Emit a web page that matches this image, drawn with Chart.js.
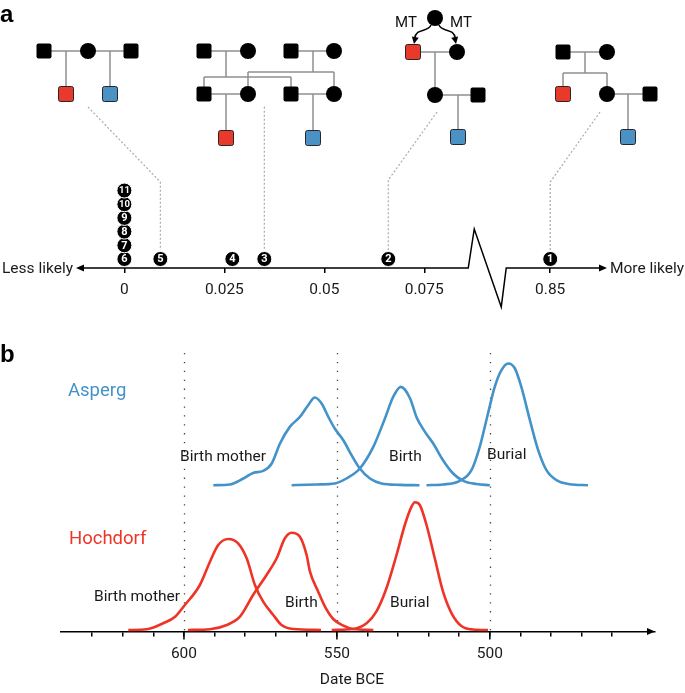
<!DOCTYPE html>
<html>
<head>
<meta charset="utf-8">
<script src="https://cdn.jsdelivr.net/npm/chart.js@4.4.4/dist/chart.umd.min.js"></script>
<style>
  html, body { margin: 0; padding: 0; background: #fff; }
  #wrap { position: relative; width: 685px; height: 693px; }
  canvas { position: absolute; left: 0; }
  #panelA { top: 0; }
  #panelB { top: 320px; }
</style>
</head>
<body>
<div id="wrap">
  <canvas id="panelA" width="685" height="320" style="width:685px;height:320px"></canvas>
  <canvas id="panelB" width="685" height="373" style="width:685px;height:373px"></canvas>
</div>
<script>
// Panel a: likelihood of the eleven ranked pedigree hypotheses (axis broken between 0.075 and 0.85)
const ranks = [1, 2, 3, 4, 5, 6, 7, 8, 9, 10, 11];
const likelihood = [0.85, 0.066, 0.035, 0.027, 0.009, 0, 0, 0, 0, 0, 0];
const stackLevel = [0, 0, 0, 0, 0, 0, 1, 2, 3, 4, 5];
const likelihoodTicks = [0, 0.025, 0.05, 0.075, 0.85];
const likelihoodTickLabels = ['0', '0.025', '0.05', '0.075', '0.85'];

// Panel b: modelled date densities (years BCE, relative density)
const aspergMotherYears = [590.4, 585, 580.6, 577.4, 574.1, 571.3, 568.6, 565.4, 562.1, 559.4, 557.2, 555, 552.8, 550.7, 547.9, 545.2, 542.5, 539.2, 535.4, 529.4, 523];
const aspergMotherDens = [0, 0.7, 6.7, 12.3, 14.3, 21.7, 41.7, 58.3, 68.3, 80, 87.7, 81.7, 68.3, 56.7, 45, 30, 16.7, 6.7, 1.7, 0.3, 0];
const aspergBirthYears = [564.8, 556.6, 550.7, 546.9, 542.5, 538.1, 534.3, 531.6, 529.1, 526.1, 524, 521.2, 518.5, 515.3, 512, 508.7, 504.4, 500];
const aspergBirthDens = [0, 0.7, 1.7, 6.7, 16.7, 38.3, 66.7, 88.3, 98.3, 87, 68.3, 53.3, 41.7, 25, 11.7, 4.4, 1.2, 0];
const aspergBurialYears = [520.7, 515.3, 509.8, 506, 503.3, 500.6, 498.4, 496.2, 494, 491.8, 489.7, 486.9, 484.2, 481.5, 478.2, 473.9, 467.9];
const aspergBurialDens = [0, 0.7, 4.4, 15, 38.3, 71.7, 98.3, 115, 121.7, 116.7, 98.3, 65, 35, 15, 5, 1, 0];

const hochMotherYears = [618.2, 612.2, 606.8, 602.9, 599.7, 594.8, 591.5, 588.8, 585.5, 582.3, 579.5, 576.8, 574.1, 570.8, 568.1, 564.3, 555.2];
const hochMotherDens = [0, 0.7, 6.7, 13.3, 25, 45, 68.3, 85, 91, 86.7, 71.7, 45, 28.3, 15, 5, 1, 0];
const hochBirthYears = [598.7, 591.5, 586, 581.7, 577.4, 573, 569.7, 567, 564.8, 562.1, 559.9, 558.8, 556.1, 553.9, 551.2, 547.9, 544.7, 538.1];
const hochBirthDens = [0, 0.7, 5, 13.3, 35, 55, 71.7, 91.7, 97.3, 93.3, 75, 58.3, 38.3, 23.3, 11, 4.3, 1, 0];
const hochBurialYears = [551.7, 544.7, 540.3, 537.1, 533.8, 530.5, 527.8, 525.6, 524.5, 522.9, 520.7, 518, 515.3, 512.5, 509.3, 505.5, 500.6];
const hochBurialDens = [0, 1, 6.7, 18.3, 41.7, 75, 105, 123.3, 127.7, 125, 105, 71.7, 38.3, 16.7, 4, 0.5, 0];

const dateTicks = [630, 620, 610, 600, 590, 580, 570, 560, 550, 540, 530, 520, 510, 500, 490, 480, 470, 460];
const dateTickLabels = [600, 550, 500];

const FONT = 'Roboto, "Noto Sans", sans-serif';
const ASPERG = '#4393c9';
const HOCH = '#ee3426';
const RED_SQ = '#e8392b';
const BLUE_SQ = '#4a91c6';
const LINK = '#8f8f8f';
const TEXT = '#1a1a1a';

// the 0.085..0.85 gap is squeezed into the zigzag
const BREAK_FROM = 0.086, BREAK_TO = 0.0955, BREAK_SHIFT = 0.85 - 0.1065;
const toAxis = (v) => (v > 0.5 ? v - BREAK_SHIFT : v);

// pedigree sketches above the axis: M male, F female, R red (Hochdorf), B blue (Asperg)
const pedigrees = [
  { people: [['M', 44, 51], ['F', 88, 51], ['M', 131, 51], ['R', 66, 94], ['B', 110, 94]],
    lines: [[44, 51, 131, 51], [66, 51, 66, 94], [110, 51, 110, 94]] },
  { people: [['M', 204, 51], ['F', 248, 51], ['M', 291, 51], ['F', 334, 51],
             ['M', 204, 94], ['F', 248, 94], ['M', 291, 94], ['F', 334, 94], ['R', 226, 138], ['B', 313, 138]],
    lines: [[204, 51, 248, 51], [291, 51, 334, 51], [226, 51, 226, 77], [204, 77, 291, 77], [204, 77, 204, 94], [291, 77, 291, 94],
            [313, 51, 313, 72], [248, 72, 334, 72], [248, 72, 248, 94], [334, 72, 334, 94],
            [204, 94, 248, 94], [291, 94, 334, 94], [226, 94, 226, 138], [313, 94, 313, 138]] },
  { people: [['F', 435, 18], ['R', 413, 52], ['F', 457, 52], ['F', 435, 95], ['M', 478, 95], ['B', 458, 137]],
    lines: [[413, 52, 457, 52], [435, 52, 435, 95], [435, 95, 478, 95], [458, 95, 458, 137]] },
  { people: [['M', 563, 52], ['F', 607, 52], ['R', 563, 94], ['F', 607, 94], ['M', 650, 94], ['B', 628, 137]],
    lines: [[563, 52, 607, 52], [585, 52, 585, 73], [563, 73, 607, 73], [563, 73, 563, 94], [607, 73, 607, 94],
            [607, 94, 650, 94], [628, 94, 628, 137]] },
];
const connectors = [
  { rank: 5, from: [88, 107], bendY: 182 },
  { rank: 3, from: [264, 107], bendY: 107 },
  { rank: 2, from: [437, 112], bendY: 180 },
  { rank: 1, from: [600, 112], bendY: 182 },
];

function drawPerson(ctx, kind, x, y) {
  ctx.beginPath();
  if (kind === 'F') {
    ctx.arc(x, y, 8, 0, Math.PI * 2);
    ctx.fillStyle = '#000';
    ctx.fill();
    return;
  }
  ctx.roundRect(x - 7.5, y - 7.5, 15, 15, 2);
  ctx.fillStyle = kind === 'R' ? RED_SQ : kind === 'B' ? BLUE_SQ : '#000';
  ctx.fill();
  if (kind !== 'M') { ctx.strokeStyle = '#262626'; ctx.lineWidth = 1; ctx.stroke(); }
}

function arrowHead(ctx, tipX, tipY, angle, len, half) {
  ctx.beginPath();
  ctx.moveTo(tipX, tipY);
  ctx.lineTo(tipX - len * Math.cos(angle) + half * Math.sin(angle), tipY - len * Math.sin(angle) - half * Math.cos(angle));
  ctx.lineTo(tipX - len * Math.cos(angle) - half * Math.sin(angle), tipY - len * Math.sin(angle) + half * Math.cos(angle));
  ctx.closePath();
  ctx.fill();
}

const panelAPlugin = {
  id: 'panelA',
  afterDatasetsDraw(chart) {
    const { ctx, chartArea, scales } = chart;
    const x = scales.x;
    const y0 = chartArea.bottom;
    ctx.save();

    // broken axis with arrows on both ends
    const b1 = x.getPixelForValue(BREAK_FROM), b2 = x.getPixelForValue(BREAK_TO);
    ctx.strokeStyle = '#000'; ctx.fillStyle = '#000'; ctx.lineWidth = 1.5;
    ctx.beginPath();
    ctx.moveTo(chartArea.left + 6, y0);
    ctx.lineTo(b1, y0);
    ctx.lineTo(b1 + 6, y0 - 39);
    ctx.lineTo(b2 - 5, y0 + 39);
    ctx.lineTo(b2, y0);
    ctx.lineTo(chartArea.right - 6, y0);
    ctx.stroke();
    arrowHead(ctx, chartArea.left, y0, Math.PI, 8, 3.5);
    arrowHead(ctx, chartArea.right, y0, 0, 8, 3.5);

    ctx.font = `15.5px ${FONT}`;
    ctx.fillStyle = TEXT;
    ctx.textBaseline = 'middle';
    ctx.textAlign = 'right';
    ctx.fillText('Less likely', chartArea.left - 3, y0 + 1);
    ctx.textAlign = 'left';
    ctx.fillText('More likely', chartArea.right + 3, y0 + 1);

    // dotted leaders from each sketch to its rank marker
    const meta = chart.getDatasetMeta(0);
    ctx.strokeStyle = '#aaaaaa'; ctx.lineWidth = 1.2; ctx.setLineDash([2, 2]);
    for (const c of connectors) {
      const el = meta.data[ranks.indexOf(c.rank)];
      ctx.beginPath();
      ctx.moveTo(c.from[0], c.from[1]);
      ctx.lineTo(el.x, c.bendY);
      ctx.lineTo(el.x, el.y - 9);
      ctx.stroke();
    }
    ctx.setLineDash([]);

    // pedigrees
    for (const p of pedigrees) {
      ctx.strokeStyle = LINK; ctx.lineWidth = 1.5;
      for (const [x1, y1, x2, y2] of p.lines) {
        ctx.beginPath(); ctx.moveTo(x1, y1); ctx.lineTo(x2, y2); ctx.stroke();
      }
      for (const [kind, px, py] of p.people) drawPerson(ctx, kind, px, py);
    }

    // mitochondrial lineage arrows
    ctx.strokeStyle = '#000'; ctx.fillStyle = '#000'; ctx.lineWidth = 1.5;
    ctx.beginPath(); ctx.moveTo(431, 25); ctx.bezierCurveTo(428, 33, 416, 27, 414.5, 39); ctx.stroke();
    arrowHead(ctx, 414, 44, Math.PI * 0.56, 7, 3.5);
    ctx.beginPath(); ctx.moveTo(439, 25); ctx.bezierCurveTo(442, 33, 454, 27, 455.5, 39); ctx.stroke();
    arrowHead(ctx, 456, 44, Math.PI * 0.44, 7, 3.5);
    ctx.font = `15px ${FONT}`;
    ctx.textAlign = 'center'; ctx.textBaseline = 'middle';
    ctx.fillStyle = '#111';
    ctx.fillText('MT', 406, 23);
    ctx.fillText('MT', 461, 23);

    // rank numbers inside the markers
    ctx.fillStyle = '#fff';
    meta.data.forEach((el, i) => {
      const s = String(ranks[i]);
      ctx.font = `bold ${s.length > 1 ? 9.5 : 11}px ${FONT}`;
      ctx.fillText(s, el.x, el.y + 0.5);
    });

    ctx.fillStyle = '#000';
    ctx.font = 'bold 24px "Liberation Sans", Arial, sans-serif';
    ctx.textAlign = 'left';
    ctx.fillText('a', 0, 15);
    ctx.restore();
  },
};

new Chart(document.getElementById('panelA'), {
  type: 'scatter',
  data: {
    datasets: [{
      data: ranks.map((r, i) => ({ x: toAxis(likelihood[i]), y: stackLevel[i] })),
      pointRadius: 7.5,
      pointHoverRadius: 7.5,
      backgroundColor: '#000',
      borderColor: '#fff',
      borderWidth: 1,
      clip: false,
    }],
  },
  options: {
    responsive: false,
    animation: false,
    events: [],
    layout: { padding: { left: 76, right: 78, top: 150, bottom: 0 } },
    plugins: { legend: { display: false }, tooltip: { enabled: false } },
    scales: {
      x: {
        type: 'linear',
        min: -0.0121,
        max: 0.1207,
        afterFit(s) { s.height = 52; },
        afterBuildTicks(s) { s.ticks = likelihoodTicks.map((v) => ({ value: toAxis(v) })); },
        border: { display: false },
        grid: { drawOnChartArea: false, drawTicks: true, tickLength: 5, color: '#000', lineWidth: 1.5 },
        ticks: {
          padding: 8, autoSkip: false, maxRotation: 0, color: TEXT,
          font: { family: FONT, size: 15.5 },
          callback: (v, i) => likelihoodTickLabels[i],
        },
      },
      y: { display: false, min: -0.657, max: 7.96 },
    },
  },
  plugins: [panelAPlugin],
});

// ---------- panel b ----------
const curveLabels = [
  { text: 'Asperg', color: ASPERG, size: 18.5, x: 68, y: 391 },
  { text: 'Hochdorf', color: HOCH, size: 18.5, x: 69, y: 539 },
  { text: 'Birth mother', color: TEXT, size: 15.5, x: 180, y: 457 },
  { text: 'Birth', color: TEXT, size: 15.5, x: 389, y: 457 },
  { text: 'Burial', color: TEXT, size: 15.5, x: 487, y: 455 },
  { text: 'Birth mother', color: TEXT, size: 15.5, x: 94, y: 597 },
  { text: 'Birth', color: TEXT, size: 15.5, x: 285, y: 603 },
  { text: 'Burial', color: TEXT, size: 15.5, x: 390, y: 603 },
];
const PANEL_B_TOP = 320;

function curve(years, dens, color, axis) {
  return {
    data: years.map((yr, i) => ({ x: yr, y: dens[i] })),
    showLine: true,
    borderColor: color,
    borderWidth: 2.6,
    pointRadius: 0,
    cubicInterpolationMode: 'monotone',
    yAxisID: axis,
    clip: false,
  };
}

const panelBPlugin = {
  id: 'panelB',
  beforeDatasetsDraw(chart) {
    const { ctx, chartArea, scales } = chart;
    ctx.save();
    ctx.strokeStyle = '#444'; ctx.lineWidth = 1.3; ctx.setLineDash([1.3, 7.6]);
    for (const v of dateTickLabels) {
      const px = Math.round(scales.x.getPixelForValue(v)) + 0.5;
      ctx.beginPath(); ctx.moveTo(px, chartArea.top); ctx.lineTo(px, chartArea.bottom); ctx.stroke();
    }
    ctx.restore();
  },
  afterDatasetsDraw(chart) {
    const { ctx, chartArea, scales } = chart;
    const y0 = chartArea.bottom;
    ctx.save();
    ctx.fillStyle = '#000';
    arrowHead(ctx, chartArea.right, y0, 0, 8, 3.5);
    ctx.strokeStyle = '#000'; ctx.lineWidth = 1.5;
    for (const v of dateTickLabels) {
      const px = scales.x.getPixelForValue(v);
      ctx.beginPath(); ctx.moveTo(px, y0); ctx.lineTo(px, y0 + 8); ctx.stroke();
    }
    ctx.textBaseline = 'middle'; ctx.textAlign = 'left';
    for (const l of curveLabels) {
      ctx.font = `${l.size}px ${FONT}`;
      ctx.fillStyle = l.color;
      ctx.fillText(l.text, l.x, l.y - PANEL_B_TOP);
    }
    ctx.font = `15.5px ${FONT}`;
    ctx.fillStyle = TEXT;
    ctx.textAlign = 'center';
    ctx.fillText('Date BCE', 352, 680 - PANEL_B_TOP);
    ctx.fillStyle = '#000';
    ctx.textAlign = 'left';
    ctx.font = 'bold 24px "Liberation Sans", Arial, sans-serif';
    ctx.fillText('b', 0, 355 - PANEL_B_TOP);
    ctx.restore();
  },
};

new Chart(document.getElementById('panelB'), {
  type: 'scatter',
  data: {
    datasets: [
      curve(aspergMotherYears, aspergMotherDens, ASPERG, 'yA'),
      curve(aspergBirthYears, aspergBirthDens, ASPERG, 'yA'),
      curve(aspergBurialYears, aspergBurialDens, ASPERG, 'yA'),
      curve(hochMotherYears, hochMotherDens, HOCH, 'yH'),
      curve(hochBirthYears, hochBirthDens, HOCH, 'yH'),
      curve(hochBurialYears, hochBurialDens, HOCH, 'yH'),
    ],
  },
  options: {
    responsive: false,
    animation: false,
    events: [],
    layout: { padding: { left: 61, right: 30, top: 33, bottom: 0 } },
    plugins: { legend: { display: false }, tooltip: { enabled: false } },
    scales: {
      x: {
        type: 'linear',
        reverse: true,
        min: 446,
        max: 640.2,
        afterFit(s) { s.height = 61.5; },
        afterBuildTicks(s) { s.ticks = dateTicks.map((v) => ({ value: v })); },
        border: { display: true, color: '#000', width: 1.5 },
        grid: { drawOnChartArea: false, drawTicks: true, tickLength: 5, color: '#000', lineWidth: 1.5 },
        ticks: {
          padding: 8, autoSkip: false, maxRotation: 0, color: TEXT,
          font: { family: FONT, size: 15.5 },
          callback: (v) => (dateTickLabels.includes(v) ? String(v) : ''),
        },
      },
      yH: { display: false, min: -1.5, max: 277 },
      yA: { display: false, min: -146.3, max: 132.2 },
    },
  },
  plugins: [panelBPlugin],
});
</script>
</body>
</html>
